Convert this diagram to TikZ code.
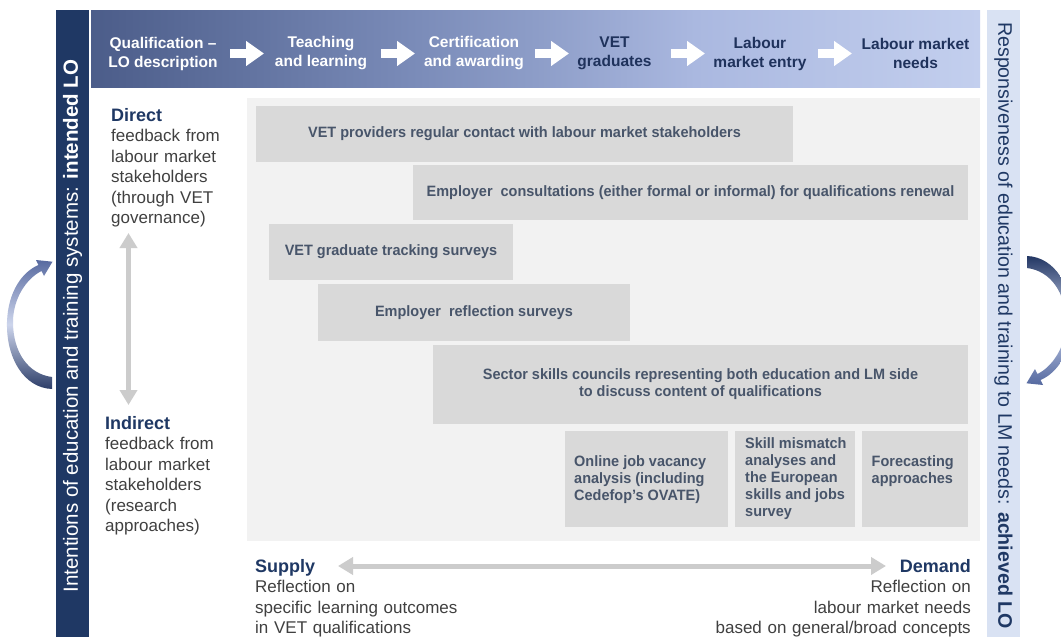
\documentclass[tikz,border=0pt]{standalone}
\usepackage{fontspec}
\setmainfont{Liberation Sans}
\newfontfamily\boxfont{Liberation Sans}[FakeStretch=0.965]
\usetikzlibrary{arrows.meta}
\definecolor{navy}{RGB}{31,56,100}
\definecolor{lightbar}{RGB}{217,226,243}
\definecolor{panelgrey}{RGB}{242,242,242}
\definecolor{boxfill}{RGB}{217,217,217}
\definecolor{boxtext}{RGB}{72,85,106}
\definecolor{bodytext}{RGB}{64,64,64}
\definecolor{arrowgrey}{RGB}{204,204,204}
\definecolor{toplabel}{RGB}{31,50,92}
\pgfdeclarehorizontalshading{topgrad}{100bp}{
 rgb(0bp)=(0.129,0.216,0.4);
 rgb(10bp)=(0.176,0.255,0.439);
 rgb(26bp)=(0.306,0.373,0.549);
 rgb(43bp)=(0.478,0.545,0.722);
 rgb(50bp)=(0.553,0.616,0.784);
 rgb(59bp)=(0.667,0.722,0.878);
 rgb(75bp)=(0.765,0.812,0.933);
 rgb(93bp)=(0.824,0.863,0.949);
 rgb(100bp)=(0.843,0.878,0.953)}
\newcommand\headtxt[1]{{\color{navy}\fontsize{18}{20.4}\selectfont\bfseries #1}}
\tikzset{
 box/.style={fill=boxfill, inner sep=0pt, text=boxtext, font=\boxfont\fontsize{15}{17}\selectfont\bfseries, align=center},
 boxlabel/.style={inner sep=0pt, text=boxtext, font=\boxfont\fontsize{15}{17}\selectfont\bfseries, align=left},
 toplab/.style={font=\fontsize{15.5}{19}\selectfont\bfseries, align=center, inner sep=0pt},
 bodytxt/.style={inner sep=0pt, text=bodytext, font=\fontsize{17}{20.4}\selectfont, text width=150pt, align=left},
 whitearrow/.style={draw=white, line width=9pt, -{Triangle[width=24pt,length=18pt]}},
 greyarrow/.style={draw=arrowgrey, line width=5pt, {Triangle[width=17pt,length=15pt]}-{Triangle[width=17pt,length=15pt]}},
}
\begin{document}
\begin{tikzpicture}[x=1pt,y=-1pt]
\useasboundingbox (0,0) rectangle (1061,637);
\fill[white] (0,0) rectangle (1061,637);
% side bars and top bar
\fill[navy] (56,10) rectangle (89,637);
\fill[lightbar] (987,10) rectangle (1020,637);
\shade[shading=topgrad] (91,10) rectangle (980,87);
% panel
\fill[panelgrey] (247,98) rectangle (980,541);
% bar texts
\node[rotate=90, text=white, inner sep=0pt, font=\fontsize{20.5}{24}\selectfont] (lefttxt) at (72.5,326) {Intentions of education and training systems: \textbf{intended LO}};
\node[rotate=-90, text=navy, inner sep=0pt, font=\fontsize{19.6}{24}\selectfont] (righttxt) at (1003.5,325.5) {Responsiveness of education and training to LM needs: \textbf{achieved LO}};
% top labels
\node[toplab, text=white] (t1) at (163,53.5) {Qualification –\\LO description};
\node[toplab, text=white] (t2) at (321,53.5) {Teaching\\and learning};
\node[toplab, text=white] (t3) at (474,53.5) {Certification\\and awarding};
\node[toplab, text=toplabel] (t4) at (614.5,53.5) {VET\\graduates};
\node[toplab, text=toplabel] (t5) at (760,53.5) {Labour\\market entry};
\node[toplab, text=toplabel] (t6) at (915.5,53.5) {Labour market\\needs};
\coordinate (a1s) at (230,53.5); \coordinate (a1e) at (264,53.5);
\coordinate (a2s) at (381,53.5); \coordinate (a2e) at (415,53.5);
\coordinate (a3s) at (535,53.5); \coordinate (a3e) at (569,53.5);
\coordinate (a4s) at (671,53.5); \coordinate (a4e) at (705,53.5);
\coordinate (a5s) at (818,53.5); \coordinate (a5e) at (852,53.5);
\foreach \i in {1,...,5} {\draw[whitearrow] (a\i s) -- (a\i e);}
% boxes
\node[box, minimum width=537pt, minimum height=56pt] (b1) at (524.5,134) {VET providers regular contact with labour market stakeholders};
\node[box, minimum width=555pt, minimum height=55pt] (b2) at (690.5,192.5) {Employer\ \ consultations (either formal or informal) for qualifications renewal};
\node[box, minimum width=244pt, minimum height=56pt] (b3) at (391,252) {VET graduate tracking surveys};
\node[box, minimum width=312pt, minimum height=57pt] (b4) at (474,312.5) {Employer\ \ reflection surveys};
\node[box, minimum width=535pt, minimum height=79pt] (b5) at (700.5,384.5) {Sector skills councils representing both education and LM side\\to discuss content of qualifications};
\node[box, minimum width=163pt, minimum height=96pt] (b6) at (646.5,479) {};
\node[box, minimum width=120pt, minimum height=96pt] (b7) at (795,479) {};
\node[box, minimum width=106pt, minimum height=96pt] (b8) at (915,479) {};
\node[boxlabel, anchor=west] (b6t) at (574,479.5) {Online job vacancy\\analysis (including\\Cedefop’s OVATE)};
\node[boxlabel, anchor=west] (b7t) at (745,479) {Skill mismatch\\analyses and\\the European\\skills and jobs\\survey};
\node[boxlabel, anchor=west] (b8t) at (871.5,471.5) {Forecasting\\approaches};
% left texts
\node[bodytxt, anchor=base west] (direct) at (111,121.5) {\headtxt{Direct}\\feedback from\\labour market\\stakeholders\\(through VET\\governance)};
\node[bodytxt, anchor=base west] (indirect) at (105,429.5) {\headtxt{Indirect}\\feedback from\\labour market\\stakeholders\\(research\\approaches)};
\coordinate (vtop) at (128.5,233);
\coordinate (vbot) at (128.5,405);
\draw[greyarrow] (vtop) -- (vbot);
% bottom texts
\node[bodytxt, anchor=base west, text width=260pt] (supply) at (255,572.5) {\headtxt{Supply}\\Reflection on\\specific learning outcomes\\in VET qualifications};
\node[bodytxt, anchor=base east, text width=300pt, align=right] (demand) at (971,572.5) {\headtxt{Demand}\\Reflection on\\labour market needs\\based on general/broad concepts};
\coordinate (hl) at (338,566);
\coordinate (hr) at (886,566);
\draw[greyarrow] (hl) -- (hr);
% curved arrows
\shade[top color={rgb,255:red,88;green,106;blue,160}, bottom color={rgb,255:red,45;green,62;blue,105}, middle color={rgb,255:red,205;green,213;blue,236}]
 (52,377) -- (52,389) .. controls (24,388) and (6,358) .. (7,322)
 .. controls (8,292) and (22,272) .. (38.4,265) -- (36,260) -- (52.5,261.7) -- (44,276) -- (41.6,271)
 .. controls (27,278) and (13,298) .. (13,322) .. controls (13,352) and (28,374) .. (52,377) -- cycle;
\shade[top color={rgb,255:red,35;green,55;blue,100}, bottom color={rgb,255:red,85;green,105;blue,160}, middle color={rgb,255:red,200;green,210;blue,235}]
 (1027,268) -- (1027,256) .. controls (1055,257) and (1073,287) .. (1072,323)
 .. controls (1071,353) and (1057,373) .. (1040.6,380) -- (1043,385) -- (1026.5,383.3) -- (1035,369) -- (1037.4,374)
 .. controls (1052,367) and (1066,347) .. (1066,323) .. controls (1066,293) and (1051,271) .. (1027,268) -- cycle;
\end{tikzpicture}
\end{document}
